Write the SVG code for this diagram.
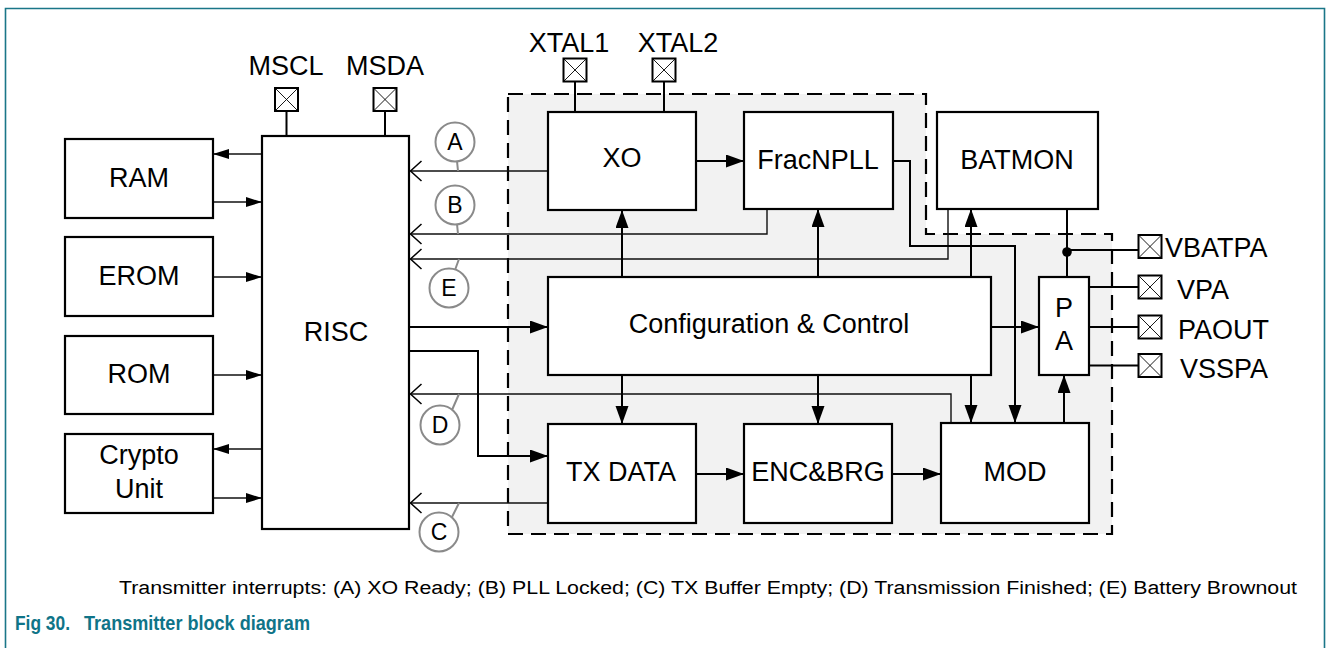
<svg xmlns="http://www.w3.org/2000/svg" width="1327" height="648" viewBox="0 0 1327 648">
<style>
text{font-family:"Liberation Sans",Arial,sans-serif;fill:#000}
.lbl{font-size:27px;text-anchor:middle}
.pinl{font-size:27px}
.box{fill:#fff;stroke:#000;stroke-width:2.2}
.thick{fill:none;stroke:#000;stroke-width:2}
.thin{fill:none;stroke:#111;stroke-width:1.4}
.irq{fill:#fff;stroke:#8a8a8a;stroke-width:2}
.stem{stroke:#8a8a8a;stroke-width:2}
.irqt{font-size:23px;text-anchor:middle}
.cap{fill:#0f7488;font-weight:bold;font-size:21px}
</style>
<defs>
<marker id="fa" markerUnits="userSpaceOnUse" markerWidth="19" markerHeight="14" refX="18" refY="6.5" orient="auto">
<path d="M0,0 L18,6.5 L0,13 z" fill="#000"/>
</marker>
<marker id="fs" markerUnits="userSpaceOnUse" markerWidth="17" markerHeight="11" refX="16" refY="5" orient="auto">
<path d="M0,0 L16,5 L0,10 z" fill="#000"/>
</marker>
<marker id="oa" markerUnits="userSpaceOnUse" markerWidth="14" markerHeight="24" refX="12" refY="11" orient="auto">
<path d="M1,1 L12,11 L1,21" fill="none" stroke="#000" stroke-width="1.5"/>
</marker>
<g id="pin">
<rect x="0" y="0" width="23" height="23" fill="#fff" stroke="#000" stroke-width="2"/>
<path d="M0,0 L23,23 M23,0 L0,23" stroke="#000" stroke-width="0.9"/>
</g>
</defs>

<rect x="0" y="0" width="1327" height="648" fill="#fff"/>
<path d="M5.5,660 V8.5 H1324.5 V660" fill="none" stroke="#1a7688" stroke-width="1.6"/>

<g id="region">
<path d="M508,94 H926 V234 H1112 V534 H508 Z" fill="#f2f2f2" stroke="#000" stroke-width="2.2" stroke-dasharray="15,8"/>
</g>

<g id="connectors">
<path class="thin" d="M262,154 H213" marker-end="url(#fs)"/>
<path class="thin" d="M213,202 H262" marker-end="url(#fs)"/>
<path class="thin" d="M213,277 H262" marker-end="url(#fs)"/>
<path class="thin" d="M213,375 H262" marker-end="url(#fs)"/>
<path class="thin" d="M262,449 H213" marker-end="url(#fs)"/>
<path class="thin" d="M213,498 H262" marker-end="url(#fs)"/>
<path class="thick" d="M286.5,111 V136 M385,111 V136 M575,81 V112 M664,81 V112"/>
<path class="thin" d="M548,171 H410.5" marker-end="url(#oa)"/>
<path class="thin" d="M767,209 V234 H410.5" marker-end="url(#oa)"/>
<path class="thin" d="M948,209 V259 H410.5" marker-end="url(#oa)"/>
<path class="thin" d="M951,423 V394 H410.5" marker-end="url(#oa)"/>
<path class="thin" d="M548,503 H410.5" marker-end="url(#oa)"/>
<path class="thick" d="M409,327 H548" marker-end="url(#fa)"/>
<path class="thick" d="M409,351 H478 V456 H548" marker-end="url(#fa)"/>
<path class="thick" d="M696,161 H744" marker-end="url(#fa)"/>
<path class="thick" d="M622,277 V210" marker-end="url(#fa)"/>
<path class="thick" d="M818,277 V209" marker-end="url(#fa)"/>
<path class="thick" d="M971,277 V209" marker-end="url(#fa)"/>
<path class="thick" d="M622,375 V424" marker-end="url(#fa)"/>
<path class="thick" d="M818,375 V424" marker-end="url(#fa)"/>
<path class="thick" d="M971,375 V423" marker-end="url(#fa)"/>
<path class="thick" d="M893,161 H910 V246 H1015 V423" marker-end="url(#fa)"/>
<path class="thick" d="M991,327 H1039" marker-end="url(#fa)"/>
<path class="thick" d="M696,474 H744" marker-end="url(#fa)"/>
<path class="thick" d="M892,474 H941" marker-end="url(#fa)"/>
<path class="thick" d="M1064,423 V375" marker-end="url(#fa)"/>
<path class="thick" d="M1067,209 V277 M1067,250 H1139 M1089,287 H1139 M1089,327 H1139 M1089,365.5 H1139"/>
<circle cx="1067" cy="252" r="4.8" fill="#000"/>
<path class="stem" d="M457,161 L458,171 M457,224 L458,234 M455,270 L459,259 M452,410 L459,394 M452,517 L459,503"/>
</g>

<g id="irq-A"><circle class="irq" cx="455" cy="142" r="19.5"/><text class="irqt" x="455" y="150">A</text></g>
<g id="irq-B"><circle class="irq" cx="455" cy="205" r="19.5"/><text class="irqt" x="455" y="213">B</text></g>
<g id="irq-E"><circle class="irq" cx="449" cy="288" r="19.5"/><text class="irqt" x="449" y="296">E</text></g>
<g id="irq-D"><circle class="irq" cx="440" cy="425" r="19.5"/><text class="irqt" x="440" y="433">D</text></g>
<g id="irq-C"><circle class="irq" cx="439" cy="532" r="19.5"/><text class="irqt" x="439" y="540">C</text></g>

<g id="ram"><rect class="box" x="65" y="139" width="148" height="79"/><text class="lbl" x="139" y="187">RAM</text></g>
<g id="erom"><rect class="box" x="65" y="237" width="148" height="79"/><text class="lbl" x="139" y="285">EROM</text></g>
<g id="rom"><rect class="box" x="65" y="336" width="148" height="78"/><text class="lbl" x="139" y="383">ROM</text></g>
<g id="crypto"><rect class="box" x="65" y="434" width="148" height="79"/><text class="lbl" x="139" y="464">Crypto</text><text class="lbl" x="139" y="498">Unit</text></g>
<g id="risc"><rect class="box" x="262" y="136" width="147" height="393"/><text class="lbl" x="336" y="341">RISC</text></g>

<g id="pin-mscl"><use href="#pin" x="275" y="88"/><text class="lbl" x="286" y="75">MSCL</text></g>
<g id="pin-msda"><use href="#pin" x="373.5" y="88"/><text class="lbl" x="385" y="75">MSDA</text></g>
<g id="pin-xtal1"><use href="#pin" x="563.5" y="58.5"/><text class="lbl" x="569" y="52">XTAL1</text></g>
<g id="pin-xtal2"><use href="#pin" x="652.5" y="58.5"/><text class="lbl" x="678" y="52">XTAL2</text></g>

<g id="xo"><rect class="box" x="548" y="112" width="148" height="98"/><text class="lbl" x="622" y="167">XO</text></g>
<g id="fracnpll"><rect class="box" x="744" y="112" width="149" height="97"/><text class="lbl" x="818" y="169">FracNPLL</text></g>
<g id="batmon"><rect class="box" x="937" y="112" width="161" height="97"/><text class="lbl" x="1017" y="169">BATMON</text></g>
<g id="config"><rect class="box" x="548" y="277" width="443" height="98"/><text class="lbl" x="769" y="333">Configuration &amp; Control</text></g>
<g id="pa"><rect class="box" x="1039" y="277" width="50" height="98"/><text class="lbl" x="1064" y="317">P</text><text class="lbl" x="1064" y="350">A</text></g>
<g id="txdata"><rect class="box" x="548" y="424" width="148" height="99"/><text class="lbl" x="621" y="481">TX DATA</text></g>
<g id="encbrg"><rect class="box" x="744" y="424" width="148" height="99"/><text class="lbl" x="818" y="481">ENC&amp;BRG</text></g>
<g id="mod"><rect class="box" x="941" y="423" width="148" height="100"/><text class="lbl" x="1015" y="481">MOD</text></g>

<g id="pin-vbatpa"><use href="#pin" x="1138.5" y="235"/><text class="pinl" x="1165" y="257">VBATPA</text></g>
<g id="pin-vpa"><use href="#pin" x="1138.5" y="275.5"/><text class="pinl" x="1177" y="299">VPA</text></g>
<g id="pin-paout"><use href="#pin" x="1138.5" y="315.5"/><text class="pinl" x="1178" y="339">PAOUT</text></g>
<g id="pin-vsspa"><use href="#pin" x="1138.5" y="354"/><text class="pinl" x="1180" y="378">VSSPA</text></g>

<text x="119" y="594" font-size="18" textLength="1178" lengthAdjust="spacingAndGlyphs">Transmitter interrupts: (A) XO Ready; (B) PLL Locked; (C) TX Buffer Empty; (D) Transmission Finished; (E) Battery Brownout</text>
<text class="cap" x="15" y="630" textLength="55" lengthAdjust="spacingAndGlyphs">Fig 30.</text>
<text class="cap" x="84" y="630" textLength="226" lengthAdjust="spacingAndGlyphs">Transmitter block diagram</text>
</svg>
